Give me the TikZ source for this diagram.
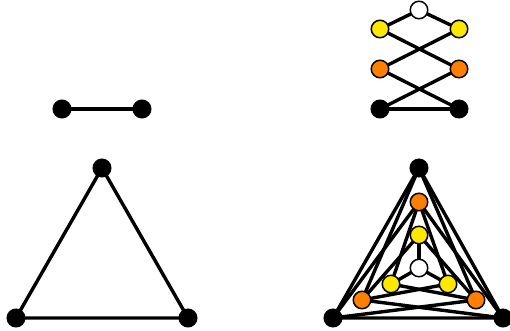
\documentclass[tikz,border=0pt]{standalone}
\usetikzlibrary{backgrounds}
\definecolor{orng}{RGB}{255,128,0}
\definecolor{yllw}{RGB}{255,232,0}
\begin{document}
\begin{tikzpicture}[x=1pt,y=-1pt,
  vtx/.style={circle,inner sep=0pt,minimum size=17.5pt,draw=black,line width=1.5pt},
  blk/.style={vtx,fill=black},
  org/.style={vtx,fill=orng},
  ylw/.style={vtx,fill=yllw},
  wht/.style={vtx,fill=white},
  edge/.style={line width=3.4pt,black}]
\useasboundingbox (0,0) rectangle (510,331);
% left top K2
\node[blk] (a1) at (62,109) {};
\node[blk] (a2) at (142,109) {};
% left triangle
\node[blk] (t1) at (102,168) {};
\node[blk] (t2) at (16,318) {};
\node[blk] (t3) at (188,318) {};
% right top
\node[blk] (bL) at (380,109) {};
\node[blk] (bR) at (459,109) {};
\node[org] (oL) at (380,69) {};
\node[org] (oR) at (459,69) {};
\node[ylw] (yL) at (380,29) {};
\node[ylw] (yR) at (459,29) {};
\node[wht] (w1) at (419,10) {};
% right bottom
\node[blk] (BT) at (419,168) {};
\node[blk] (BL) at (333,318) {};
\node[blk] (BR) at (503,318) {};
\node[org] (OT) at (419,202) {};
\node[org] (OL) at (362,300) {};
\node[org] (OR) at (476,300) {};
\node[ylw] (YT) at (419,235) {};
\node[ylw] (YL) at (391,284) {};
\node[ylw] (YR) at (448,284) {};
\node[wht] (W) at (419,268) {};
\begin{scope}[on background layer]
\draw[edge] (a1.center) -- (a2.center);
\draw[edge] (t1.center) -- (t2.center) -- (t3.center) -- cycle;
% right top
\draw[edge] (bL.center) -- (bR.center);
\draw[edge] (bL.center) -- (oR.center);
\draw[edge] (bR.center) -- (oL.center);
\draw[edge] (oL.center) -- (yR.center);
\draw[edge] (oR.center) -- (yL.center);
\draw[edge] (yL.center) -- (w1.center);
\draw[edge] (yR.center) -- (w1.center);
% right bottom
\draw[edge] (BT.center) -- (BL.center) -- (BR.center) -- cycle;
\draw[edge] (OT.center) -- (BL.center);
\draw[edge] (OT.center) -- (BR.center);
\draw[edge] (OL.center) -- (BT.center);
\draw[edge] (OL.center) -- (BR.center);
\draw[edge] (OR.center) -- (BT.center);
\draw[edge] (OR.center) -- (BL.center);
\draw[edge] (YT.center) -- (OL.center);
\draw[edge] (YT.center) -- (OR.center);
\draw[edge] (YL.center) -- (OT.center);
\draw[edge] (YL.center) -- (OR.center);
\draw[edge] (YR.center) -- (OT.center);
\draw[edge] (YR.center) -- (OL.center);
\draw[edge] (W.center) -- (YT.center);
\draw[edge] (W.center) -- (YL.center);
\draw[edge] (W.center) -- (YR.center);
\end{scope}
\end{tikzpicture}
\end{document}
